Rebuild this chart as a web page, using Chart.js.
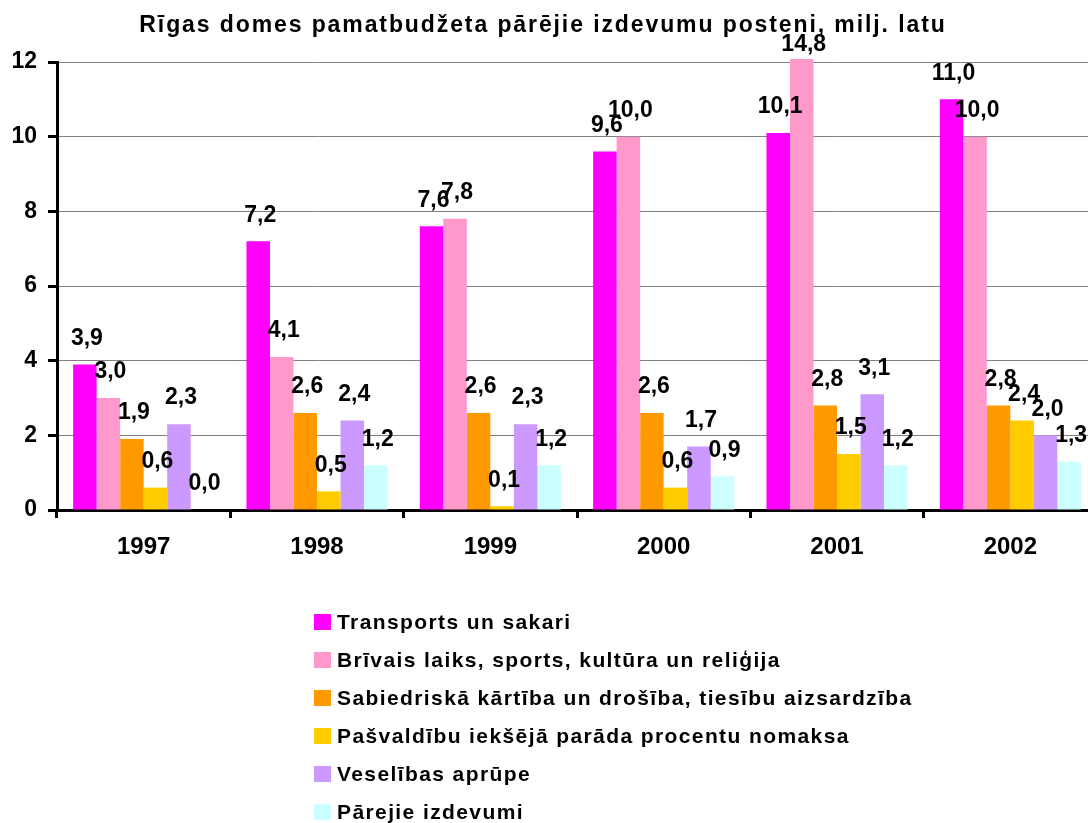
<!DOCTYPE html>
<html>
<head>
<meta charset="utf-8">
<script src="https://cdn.jsdelivr.net/npm/chart.js@4.4.1/dist/chart.umd.min.js"></script>
<style>
    body { margin: 0; background: #fff; }
    #wrap { position: relative; width: 1088px; height: 823px; overflow: hidden; }
    #title { position: absolute; left: 0; width: 1086px; top: 13px; text-align: center; white-space: nowrap;
             font: bold 23px/23px "Liberation Sans", Arial, sans-serif; letter-spacing: 1.9px; color: #000; }
    #legend { position: absolute; left: 314px; top: 603px; font: bold 21px "Liberation Sans", Arial, sans-serif;
              letter-spacing: 1.4px; color: #000; }
    .row { display: flex; align-items: center; height: 38px; white-space: nowrap; }
    .box { width: 17px; height: 16px; margin-right: 6px; }
</style>
</head>
<body>
<div id="wrap">
    <canvas id="myChart" width="1100" height="823"></canvas>
    <div id="title">Rīgas domes pamatbudžeta pārējie izdevumu posteni, milj. latu</div>
    <div id="legend"></div>
</div>
<script>
const years = ['1997', '1998', '1999', '2000', '2001', '2002'];

const seriesNames = [
    'Transports un sakari',
    'Brīvais laiks, sports, kultūra un reliģija',
    'Sabiedriskā kārtība un drošība, tiesību aizsardzība',
    'Pašvaldību iekšējā parāda procentu nomaksa',
    'Veselības aprūpe',
    'Pārejie izdevumi'
];
const seriesColors = ['#FF00FF', '#FF99CC', '#FF9900', '#FFCC00', '#CC99FF', '#CCFFFF'];

const transports = [3.9, 7.2, 7.6, 9.6, 10.1, 11.0];
const brivaisLaiks = [3.0, 4.1, 7.8, 10.0, 14.8, 10.0];
const kartiba = [1.9, 2.6, 2.6, 2.6, 2.8, 2.8];
const paradaProcenti = [0.6, 0.5, 0.1, 0.6, 1.5, 2.4];
const veseliba = [2.3, 2.4, 2.3, 1.7, 3.1, 2.0];
const parejie = [0.0, 1.2, 1.2, 0.9, 1.2, 1.3];

const yTicks = [0, 2, 4, 6, 8, 10, 12];

const allSeries = [transports, brivaisLaiks, kartiba, paradaProcenti, veseliba, parejie];
const FONT = '"Liberation Sans", Arial, sans-serif';

// value labels above bars, Excel style "3,9"
const barLabels = {
    id: 'barLabels',
    afterDatasetsDraw(chart) {
        const ctx = chart.ctx;
        const area = chart.chartArea;
        ctx.save();
        ctx.font = 'bold 23px ' + FONT;
        ctx.fillStyle = '#000';
        ctx.textAlign = 'center';
        ctx.textBaseline = 'middle';
        chart.data.datasets.forEach((ds, i) => {
            chart.getDatasetMeta(i).data.forEach((bar, j) => {
                const clipped = bar.y < area.top;
                const top = clipped ? area.top : bar.y;
                const off = clipped ? 17 : 26;
                ctx.fillText(ds.data[j].toFixed(1).replace('.', ','), bar.x + 2, top - off);
            });
        });
        ctx.restore();
    }
};

const ctx = document.getElementById('myChart');
new Chart(ctx, {
    type: 'bar',
    data: {
        labels: years,
        datasets: allSeries.map((d, i) => ({
            label: seriesNames[i],
            data: d,
            backgroundColor: seriesColors[i],
            borderWidth: 0,
            clip: { left: 0, top: 3, right: 0, bottom: 0 } // bar over 12 sticks out a little, like the original
        }))
    },
    options: {
        responsive: false,
        animation: false,
        categoryPercentage: 0.814,
        barPercentage: 1.0,
        layout: { padding: { top: 62, right: 3 } },
        plugins: {
            title: { display: false },
            legend: { display: false },
            tooltip: { enabled: false }
        },
        scales: {
            x: {
                afterFit(scale) { scale.height = 313; },
                grid: {
                    drawOnChartArea: false,
                    drawTicks: true,
                    tickLength: 8,
                    tickColor: '#000',
                    tickWidth: 3
                },
                border: { color: '#000', width: 3 },
                ticks: {
                    color: '#000',
                    padding: 15,
                    font: { family: FONT, size: 24, weight: 'bold' }
                }
            },
            y: {
                min: 0,
                max: 12,
                afterFit(scale) { scale.width = 57; },
                afterBuildTicks(scale) { scale.ticks = yTicks.map(v => ({ value: v })); },
                grid: {
                    color: '#808080',
                    lineWidth: 1,
                    tickLength: 9,
                    tickColor: '#000',
                    tickWidth: 3
                },
                border: { color: '#000', width: 3 },
                ticks: {
                    color: '#000',
                    padding: 11,
                    font: { family: FONT, size: 23, weight: 'bold' }
                }
            }
        }
    },
    plugins: [barLabels]
});

// legend as a vertical list, like the original
const legend = document.getElementById('legend');
seriesNames.forEach((name, i) => {
    const row = document.createElement('div');
    row.className = 'row';
    const box = document.createElement('span');
    box.className = 'box';
    box.style.background = seriesColors[i];
    const txt = document.createElement('span');
    txt.textContent = name;
    row.appendChild(box);
    row.appendChild(txt);
    legend.appendChild(row);
});
</script>
</body>
</html>
